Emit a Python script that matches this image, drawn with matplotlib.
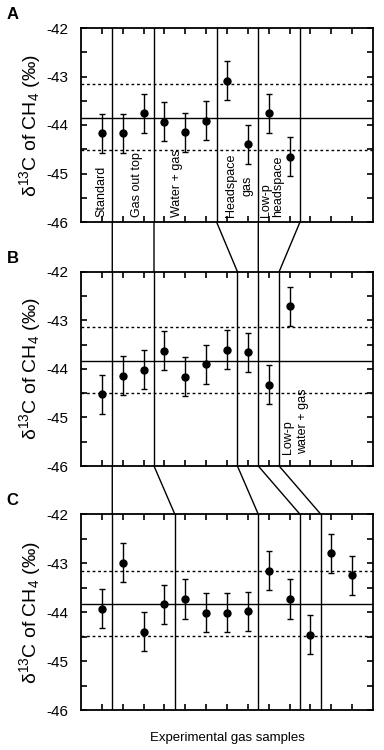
import matplotlib
matplotlib.use("Agg")
import matplotlib.pyplot as plt
from matplotlib.patches import ConnectionPatch

plt.rcParams['font.family'] = ['Liberation Sans', 'DejaVu Sans']
plt.rcParams['mathtext.fontset'] = 'custom'
plt.rcParams['mathtext.rm'] = 'Liberation Sans'
plt.rcParams['mathtext.it'] = 'Liberation Sans'
plt.rcParams['axes.unicode_minus'] = False

# delta13C values
valsA = [-44.17, -44.17, -43.76, -43.93, -44.15, -43.91, -43.09, -44.40, -43.76, -44.65]
valsB = [-44.52, -44.14, -44.02, -43.63, -44.16, -43.91, -43.61, -43.66, -44.33, -42.71]
valsC = [-43.93, -42.99, -44.40, -43.84, -43.73, -44.01, -44.01, -43.98, -43.15, -43.73,
         -44.46, -42.80, -43.25]
err = 0.4

# standard mean and +/- range (solid / dotted lines)
meanA, hiA, loA = -43.85, -43.15, -44.51
meanB, hiB, loB = -43.83, -43.13, -44.50
meanC, hiC, loC = -43.84, -43.15, -44.49

# group separators
sepA = [1.5, 3.5, 6.5, 8.5, 10.5]
sepB = [1.5, 3.5, 7.5, 8.5, 9.5]
sepC = [1.5, 4.5, 8.5, 10.5, 11.5]

labelsA = ["Standard", "Gas out top", "Water + gas", "Headspace\ngas", "Low-p\nheadspace"]
labelA_x = [1.0, 2.67, 4.62, 7.57, 9.17]
labelsB = ["Low-p\nwater + gas"]
labelB_x = [10.3]

fig = plt.figure(figsize=(3.84, 7.5), dpi=100)
L, W = 81/384, 292/384
axA = fig.add_axes([L, 1-222/750, W, 194/750])
axB = fig.add_axes([L, 1-466/750, W, 194.3/750])
axC = fig.add_axes([L, 1-710/750, W, 195.7/750])

panels = [(axA, valsA, meanA, hiA, loA, sepA, "A"),
          (axB, valsB, meanB, hiB, loB, sepB, "B"),
          (axC, valsC, meanC, hiC, loC, sepC, "C")]

for ax, vals, m, hi, lo, seps, letter in panels:
    xs = list(range(1, len(vals)+1))
    ax.errorbar(xs, vals, yerr=err, fmt='o', color='black', ms=5,
                capsize=2.5, elinewidth=1, capthick=1, zorder=3)
    ax.axhline(m, color='black', lw=1)
    ax.axhline(hi, color='black', lw=1, dashes=(2, 2))
    ax.axhline(lo, color='black', lw=1, dashes=(2, 2))
    for s in seps:
        ax.axvline(s, color='black', lw=1)
    ax.set_xlim(0, 14)
    ax.set_ylim(-46, -42)
    ax.set_xticks(range(1, 14))
    ax.set_xticklabels([])
    ax.set_yticks([-46, -45, -44, -43, -42])
    ax.set_yticks([-45.5, -44.5, -43.5, -42.5], minor=True)
    ax.tick_params(which='both', direction='in', top=True, right=True,
                   length=4, width=1.2, labelsize=11)
    ax.tick_params(axis='y', pad=9)
    ax.tick_params(axis='x', pad=2)
    for sp in ax.spines.values():
        sp.set_linewidth(1.3)
    ax.set_ylabel("δ$^{13}$C of CH$_4$ (‰)", fontsize=14)
    ax.yaxis.set_label_coords(-0.13, 0.5)
    ax.text(-0.255, 1.03, letter, transform=ax.transAxes, fontsize=12,
            fontweight='bold', ha='left', va='bottom')

spacing = {"Headspace\ngas": 1.5, "Low-p\nheadspace": 1.0}
for lab, x in zip(labelsA, labelA_x):
    ma = 'center' if lab.startswith("Head") else 'left'
    axA.text(x, -45.9, lab, rotation=90, ha='center', va='bottom',
             fontsize=9, multialignment=ma, linespacing=spacing.get(lab, 1.2))
for lab, x in zip(labelsB, labelB_x):
    axB.text(x, -45.75, lab, rotation=90, ha='center', va='bottom',
             fontsize=9, multialignment='left', linespacing=1.35)

axC.set_xlabel("Experimental gas samples", fontsize=9.5, labelpad=14)

# connectors between panels
for a, b in zip(sepA, sepB):
    fig.add_artist(ConnectionPatch(xyA=(a, -46), coordsA=axA.transData,
                                   xyB=(b, -42), coordsB=axB.transData,
                                   color='black', lw=1))
for a, b in zip(sepB, sepC):
    fig.add_artist(ConnectionPatch(xyA=(a, -46), coordsA=axB.transData,
                                   xyB=(b, -42), coordsB=axC.transData,
                                   color='black', lw=1))

fig.savefig("out.png", dpi=100)
